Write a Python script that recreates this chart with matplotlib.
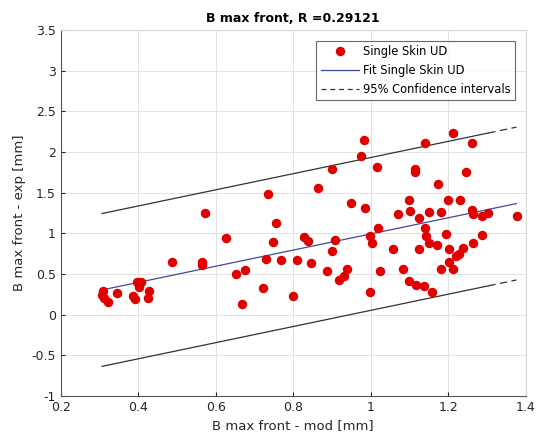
import numpy as np
import matplotlib
matplotlib.use('Agg')
import matplotlib.pyplot as plt

# Data
x_mod = [0.309, 0.307, 0.312, 0.323, 0.345, 0.386, 0.393, 0.396, 0.407, 0.403,
         0.429, 0.426, 0.487, 0.565, 0.566, 0.572, 0.627, 0.652, 0.676, 0.669,
         0.723, 0.730, 0.736, 0.749, 0.755, 0.769, 0.800, 0.809, 0.828, 0.839,
         0.846, 0.864, 0.888, 0.900, 0.899, 0.907, 0.919, 0.931, 0.938, 0.949,
         0.976, 0.982, 0.984, 0.998, 1.003, 0.998, 1.015, 1.018, 1.025, 1.058,
         1.071, 1.084, 1.099, 1.101, 1.099, 1.114, 1.115, 1.118, 1.124, 1.124,
         1.137, 1.139, 1.139, 1.142, 1.150, 1.151, 1.157, 1.171, 1.174, 1.180,
         1.182, 1.194, 1.199, 1.202, 1.202, 1.212, 1.212, 1.219, 1.228, 1.231,
         1.237, 1.247, 1.261, 1.261, 1.264, 1.264, 1.286, 1.288, 1.303, 1.376]
y_exp = [0.295, 0.246, 0.209, 0.160, 0.262, 0.225, 0.188, 0.397, 0.405, 0.344,
         0.295, 0.203, 0.643, 0.643, 0.608, 1.253, 0.950, 0.500, 0.549, 0.127,
         0.323, 0.682, 1.490, 0.900, 1.130, 0.679, 0.227, 0.678, 0.958, 0.909,
         0.633, 1.557, 0.532, 0.786, 1.797, 0.921, 0.430, 0.479, 0.565, 1.372,
         1.953, 2.146, 1.318, 0.964, 0.888, 0.283, 1.822, 1.063, 0.532, 0.807,
         1.237, 0.561, 1.413, 1.278, 0.409, 1.797, 1.751, 0.369, 1.195, 0.807,
         0.348, 2.117, 1.065, 0.964, 0.885, 1.269, 0.283, 0.860, 1.606, 1.269,
         0.561, 0.991, 1.413, 0.807, 0.643, 2.232, 0.561, 0.725, 0.746, 1.413,
         0.819, 1.757, 2.117, 1.286, 1.237, 0.888, 1.216, 0.983, 1.257, 1.216]

# linear fit and half-width of the 95% band
fit_slope = 0.994
fit_intercept = 0.0
ci_halfwidth = 0.94
r_value = 0.29121

x_sorted = np.sort(np.array(x_mod))
y_fit = fit_slope * x_sorted + fit_intercept

fig = plt.figure(figsize=(5.36, 4.44), dpi=100)
ax = fig.add_axes([0.113, 0.108, 0.868, 0.824])

ax.plot(x_mod, y_exp, 'o', color='#e00000', markersize=5.8, label='Single Skin UD', zorder=3)
ax.plot(x_sorted, y_fit, '-', color='#3f4a9a', linewidth=0.9, label='Fit Single Skin UD')

# the dashed band looks solid in the original except over the last (long) segment
ci_color = '#333333'
for sign in (1, -1):
    y_ci = y_fit + sign * ci_halfwidth
    ax.plot(x_sorted[:-1], y_ci[:-1], '-', color=ci_color, linewidth=0.9)
    ax.plot(x_sorted[-2:], y_ci[-2:], color=ci_color, linewidth=0.9, dashes=(6, 3.5))
ax.plot([], [], color=ci_color, linewidth=0.9, dashes=(4, 3),
        label='95% Confidence intervals')

ax.set_xlim(0.2, 1.4)
ax.set_ylim(-1, 3.5)
ax.set_xticks(np.arange(0.2, 1.41, 0.2))
ax.set_xticklabels(['0.2', '0.4', '0.6', '0.8', '1', '1.2', '1.4'])
ax.set_yticks(np.arange(-1, 3.51, 0.5))
ax.set_yticklabels(['-1', '-0.5', '0', '0.5', '1', '1.5', '2', '2.5', '3', '3.5'])
ax.grid(True, color='#e2e2e2', linewidth=0.7)
ax.set_axisbelow(True)
ax.tick_params(direction='in', labelsize=9, colors='#262626', length=3)
for s in ['left', 'bottom']:
    ax.spines[s].set_color('#555555')
for s in ['top', 'right']:
    ax.spines[s].set_color('#d8d8d8')

ax.set_title('B max front, R =%.5f' % r_value, fontsize=9, fontweight='bold', pad=6)
ax.set_xlabel('B max front - mod [mm]', fontsize=9.5, color='#262626')
ax.set_ylabel('B max front - exp [mm]', fontsize=9.5, color='#262626')

leg = ax.legend(loc='upper right', fontsize=8.3, frameon=True, fancybox=False,
                edgecolor='#444444', handlelength=3.3, handletextpad=0.4,
                borderaxespad=0.9, labelspacing=0.5)
leg.get_frame().set_linewidth(0.8)

fig.savefig('out.png', dpi=100)
